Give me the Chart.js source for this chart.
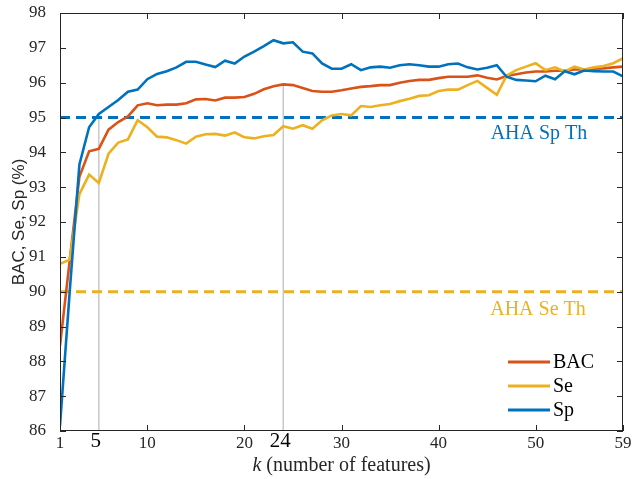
<!DOCTYPE html>
<html>
<head>
<meta charset="utf-8">
<script src="https://cdn.jsdelivr.net/npm/chart.js@4"></script>
<style>
    body { margin: 0; background: #fff; }
    #wrap { width: 642px; height: 479px; }
</style>
</head>
<body>
<div id="wrap"><canvas id="kChart" width="642" height="479"></canvas></div>
<script>
// number of features
const K = [1, 2, 3, 4, 5, 6, 7, 8, 9, 10, 11, 12, 13, 14, 15, 16, 17, 18, 19, 20,
    21, 22, 23, 24, 25, 26, 27, 28, 29, 30, 31, 32, 33, 34, 35, 36, 37, 38, 39, 40,
    41, 42, 43, 44, 45, 46, 47, 48, 49, 50, 51, 52, 53, 54, 55, 56, 57, 58, 59];

const BAC = [88.45, 90.9, 93.3, 94.03, 94.1, 94.65, 94.87, 95.03, 95.35, 95.41,
    95.35, 95.37, 95.37, 95.41, 95.52, 95.53, 95.49, 95.57, 95.57, 95.59,
    95.68, 95.81, 95.9, 95.95, 95.93, 95.85, 95.76, 95.74, 95.74, 95.78,
    95.83, 95.88, 95.9, 95.93, 95.93, 96.0, 96.05, 96.08, 96.08, 96.13,
    96.17, 96.17, 96.17, 96.21, 96.14, 96.09, 96.19, 96.24, 96.29, 96.32,
    96.32, 96.34, 96.34, 96.38, 96.38, 96.4, 96.41, 96.44, 96.46];

const SE = [90.8, 90.92, 92.8, 93.36, 93.12, 93.96, 94.28, 94.37, 94.92, 94.72,
    94.45, 94.43, 94.35, 94.25, 94.45, 94.52, 94.53, 94.48, 94.57, 94.43,
    94.4, 94.46, 94.5, 94.75, 94.68, 94.78, 94.68, 94.92, 95.06, 95.1,
    95.06, 95.33, 95.3, 95.35, 95.39, 95.47, 95.54, 95.62, 95.64, 95.76,
    95.8, 95.8, 95.93, 96.05, 95.85, 95.65, 96.2, 96.36, 96.46, 96.56,
    96.36, 96.44, 96.32, 96.46, 96.38, 96.44, 96.48, 96.56, 96.7];

const SP = [86.15, 90.0, 93.65, 94.72, 95.1, 95.3, 95.5, 95.74, 95.8, 96.1,
    96.25, 96.33, 96.44, 96.6, 96.6, 96.52, 96.45, 96.63, 96.55, 96.75,
    96.89, 97.05, 97.22, 97.13, 97.16, 96.89, 96.84, 96.55, 96.4, 96.4,
    96.53, 96.36, 96.44, 96.46, 96.43, 96.5, 96.53, 96.5, 96.46, 96.46,
    96.53, 96.55, 96.44, 96.38, 96.43, 96.5, 96.17, 96.08, 96.06, 96.04,
    96.2, 96.1, 96.33, 96.24, 96.35, 96.33, 96.32, 96.32, 96.18];

const SP_TH = 95;
const SE_TH = 90;

const X_TICKS = [1, 10, 20, 30, 40, 50, 59];
const MARK_K = [5, 24];
const MARK_TOP = [SP[4], BAC[23]];

const Y_MIN = 86;
const Y_MAX = 98;

const blue = "#0072BD";
const red = "#D95319";
const yellow = "#EDB120";
const axisColor = "#262626";
const serif = "'Liberation Serif', 'Times New Roman', serif";

function pts(ys) {
    return K.map((k, i) => ({ x: k, y: ys[i] }));
}

function flat(v) {
    return [{ x: K[0], y: v }, { x: K[K.length - 1], y: v }];
}

const datasets = [
    { label: "Sp", data: pts(SP), borderColor: blue, borderWidth: 2.6, order: 1 },
    { label: "Se", data: pts(SE), borderColor: yellow, borderWidth: 2.6, order: 2 },
    { label: "BAC", data: pts(BAC), borderColor: red, borderWidth: 2.6, order: 3 },
    { label: "spth", data: flat(SP_TH), borderColor: blue, borderWidth: 3, borderDash: [10, 6], order: 4 },
    { label: "seth", data: flat(SE_TH), borderColor: yellow, borderWidth: 3, borderDash: [10, 6], order: 4 }
];

MARK_K.forEach((k, i) => {
    datasets.push({
        label: "mark" + k,
        data: [{ x: k, y: Y_MIN }, { x: k, y: MARK_TOP[i] }],
        borderColor: "#c8c8c8",
        borderWidth: 1.5,
        order: 5
    });
});

// box, inward ticks, titles, annotations and legend
const decor = {
    id: "decor",
    afterDraw(chart) {
        const c = chart.ctx;
        const a = chart.chartArea;
        const xs = chart.scales.x;
        const ys = chart.scales.y;

        c.save();
        c.strokeStyle = axisColor;
        c.lineWidth = 1;
        c.strokeRect(a.left + 0.5, a.top + 0.5, a.right - a.left - 1, a.bottom - a.top - 1);

        c.beginPath();
        X_TICKS.forEach(v => {
            const px = Math.round(xs.getPixelForValue(v)) + 0.5;
            c.moveTo(px, a.bottom);
            c.lineTo(px, a.bottom - 6);
            c.moveTo(px, a.top);
            c.lineTo(px, a.top + 6);
        });
        for (let v = Y_MIN; v <= Y_MAX; v++) {
            const py = Math.round(ys.getPixelForValue(v)) + 0.5;
            c.moveTo(a.left, py);
            c.lineTo(a.left + 6, py);
            c.moveTo(a.right, py);
            c.lineTo(a.right - 6, py);
        }
        c.stroke();

        // highlighted k values
        c.fillStyle = "#000";
        c.font = "21px " + serif;
        c.textAlign = "center";
        c.textBaseline = "alphabetic";
        MARK_K.forEach(k => {
            c.fillText(String(k), xs.getPixelForValue(k) - 3, a.bottom + 16);
        });

        // x title
        c.fillStyle = axisColor;
        const rest = " (number of features)";
        c.font = "italic 20px " + serif;
        const wk = c.measureText("k").width;
        c.font = "20px " + serif;
        const wr = c.measureText(rest).width;
        const x0 = (a.left + a.right) / 2 - (wk + wr) / 2;
        c.textAlign = "left";
        c.font = "italic 20px " + serif;
        c.fillText("k", x0, 471);
        c.font = "20px " + serif;
        c.fillText(rest, x0 + wk, 471);

        // y title
        c.save();
        c.translate(19, (a.top + a.bottom) / 2);
        c.rotate(-Math.PI / 2);
        c.textAlign = "center";
        c.textBaseline = "middle";
        c.font = "17px 'Liberation Sans', Arial, sans-serif";
        c.fillText("BAC, Se, Sp (%)", 0, 0);
        c.restore();

        // threshold labels
        c.font = "20px " + serif;
        c.textAlign = "center";
        c.fillStyle = blue;
        c.fillText("AHA Sp Th", 539, ys.getPixelForValue(SP_TH) + 21);
        c.fillStyle = yellow;
        c.fillText("AHA Se Th", 538, ys.getPixelForValue(SE_TH) + 23);

        // legend
        const items = [["BAC", red], ["Se", yellow], ["Sp", blue]];
        c.textAlign = "left";
        c.textBaseline = "middle";
        c.font = "20px " + serif;
        items.forEach((it, i) => {
            const y = 362 + i * 24;
            c.strokeStyle = it[1];
            c.lineWidth = 3;
            c.beginPath();
            c.moveTo(508, y);
            c.lineTo(550, y);
            c.stroke();
            c.fillStyle = "#000";
            c.fillText(it[0], 553, y + 1);
        });

        c.restore();
    }
};

new Chart(document.getElementById("kChart"), {
    type: "line",
    data: { datasets: datasets },
    options: {
        responsive: false,
        animation: false,
        layout: { padding: { top: 13, right: 19, left: 0, bottom: 0 } },
        elements: {
            point: { radius: 0 },
            line: { tension: 0, fill: false }
        },
        plugins: {
            legend: { display: false },
            tooltip: { enabled: false }
        },
        scales: {
            x: {
                type: "linear",
                min: 1,
                max: 59,
                afterBuildTicks: s => { s.ticks = X_TICKS.map(v => ({ value: v })); },
                afterFit: s => {
                    s.height = 48;
                    s.paddingLeft = 0;
                    s.paddingRight = 0;
                },
                grid: { display: false },
                border: { display: false },
                ticks: {
                    padding: -6,
                    color: axisColor,
                    font: { family: serif, size: 17 }
                }
            },
            y: {
                min: Y_MIN,
                max: Y_MAX,
                afterFit: s => {
                    s.width = 60;
                    s.paddingTop = 0;
                    s.paddingBottom = 0;
                },
                grid: { display: false },
                border: { display: false },
                ticks: {
                    stepSize: 1,
                    padding: 6,
                    color: axisColor,
                    font: { family: serif, size: 17 }
                }
            }
        }
    },
    plugins: [decor]
});
</script>
</body>
</html>
